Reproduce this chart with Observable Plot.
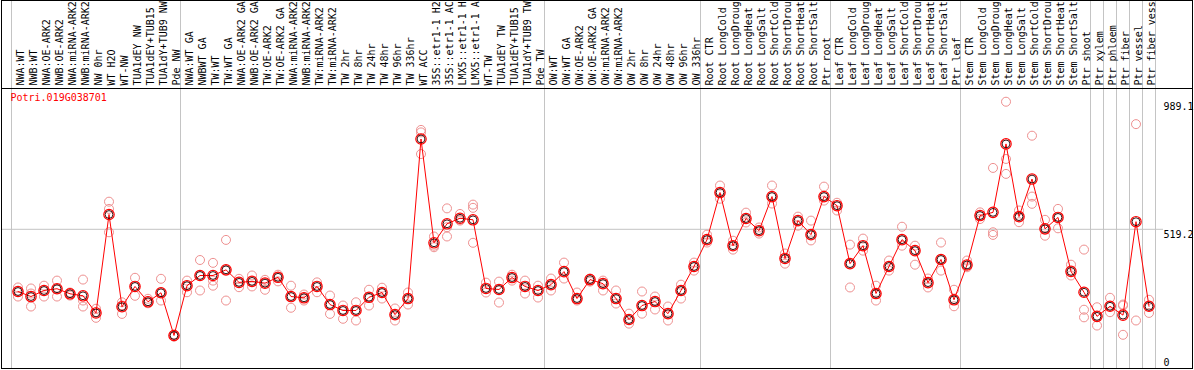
<!DOCTYPE html>
<html><head><meta charset="utf-8">
<script src="https://cdn.jsdelivr.net/npm/d3@7"></script>
<script src="https://cdn.jsdelivr.net/npm/@observablehq/plot@0.6"></script>
<style>
html,body{margin:0;padding:0;background:#fff;}
#chart svg{display:block;}
</style></head><body><div id="chart"></div>
<script>
const gene = "Potri.019G038701";
const samples = [
"NWA:WT","NWB:WT","NWA:OE-ARK2","NWB:OE-ARK2","NWA:miRNA-ARK2","NWB:miRNA-ARK2","NW 0hr","WT H2O","WT-NW","TUA1dEY NW","TUA1dEY+TUB15 NW","TUA1dY+TUB9 NW","Pde NW",
"NWA:WT GA","NWBWT GA","TW:WT","TW:WT GA","NWA:OE-ARK2 GA","NWB:OE-ARK2 GA","TW:OE-ARK2","TW:OE-ARK2 GA","NWA:miRNA-ARK2","NWB:miRNA-ARK2","TW:miRNA-ARK2","TW:miRNA-ARK2","TW 2hr","TW 8hr","TW 24hr","TW 48hr","TW 96hr","TW 336hr","WT ACC","35S::etr1-1 H2O","35S::etr1-1 ACC","LMX5::etr1-1 H2O","LMX5::etr1-1 ACC","WT-TW","TUA1dEY TW","TUA1dEY+TUB15 TW","TUA1dY+TUB9 TW","Pde TW",
"OW:WT","OW:WT GA","OW:OE-ARK2","OW:OE-ARK2 GA","OW:miRNA-ARK2","OW:miRNA-ARK2","OW 2hr","OW 8hr","OW 24hr","OW 48hr","OW 96hr","OW 336hr",
"Root CTR","Root LongCold","Root LongDrought","Root LongHeat","Root LongSalt","Root ShortCold","Root ShortDrought","Root ShortHeat","Root ShortSalt","Ptr root",
"Leaf CTR","Leaf LongCold","Leaf LongDrought","Leaf LongHeat","Leaf LongSalt","Leaf ShortCold","Leaf ShortDrought","Leaf ShortHeat","Leaf ShortSalt","Ptr leaf",
"Stem CTR","Stem LongCold","Stem LongDrought","Stem LongHeat","Stem LongSalt","Stem ShortCold","Stem ShortDrought","Stem ShortHeat","Stem ShortSalt","Ptr shoot",
"Ptr xylem","Ptr phloem","Ptr fiber","Ptr vessel","Ptr fiber vessel"
];
const means = [
279,259,283,290,270,262,193,575,218,299,238,274,99,
302,342,342,364,315,319,312,335,259,254,299,227,203,203,256,275,186,251,854,468,540,561,555,291,287,334,299,283,
306,357,251,326,310,251,166,223,239,190,283,377,
480,657,457,560,514,642,408,552,499,642,
608,388,457,271,377,480,438,314,404,246,
383,571,583,836,567,707,521,564,358,276,
179,220,184,548,220
];
const replicates = [
[295,279,259],[291,271,219],[302,283,259],[322,290,259],[275,271,263],[326,243,219],[210,196,173],[623,596,508],[236,223,189],[333,299,262],[250,240,232],[329,276,243],[103,99,94],
[322,302,276],[402,342,283],[391,322,302],[479,364,243],[329,315,296],[342,319,299],[325,312,286],[345,335,319],[302,259,214],[267,254,243],[315,299,276],[263,227,189],[223,203,169],[236,203,162],[286,256,223],[294,275,251],[211,186,162],[275,251,227],[887,878,799],[492,457,451],[598,527,492],[577,555,552],[612,600,468],[314,291,275],[318,287,235],[345,334,322],[322,299,271],[302,283,255],
[330,306,283],[392,357,330],[275,251,243],[330,326,318],[322,310,283],[283,251,231],[190,166,149],[279,223,190],[259,239,207],[219,190,162],[306,283,251],[392,377,361],
[499,480,469],[683,657,634],[476,457,442],[582,560,545],[526,514,503],[683,642,616],[427,408,388],[567,552,533],[552,499,477],[679,642,627],
[619,608,590],[461,388,295],[484,457,438],[302,271,243],[400,377,361],[529,480,457],[457,438,384],[330,314,295],[469,404,361],[286,246,220],
[400,383,374],[583,571,558],[748,508,498],[989,781,726],[590,567,546],[866,642,615],[555,521,495],[596,564,523],[384,358,342],[442,206,175],
[216,179,141],[254,220,196],[227,223,102],[908,162],[246,220,193]
];
const groupBreaks = [0,13,41,53,63,73,83,84,85,86,87,88];
const yTicks = [0, 519.2, 989.1];
const yTickLabels = ["0", "519.2", "989.1"];

const pts = samples.map((s, i) => ({i, label: s, mean: means[i]}));
const reps = replicates.flatMap((r, i) => r.map(v => ({i, v})));
const xTicks = samples.map((s, i) => i + 0.5);

const plot = Plot.plot({
  width: 1194, height: 370,
  marginTop: 88, marginBottom: 2, marginLeft: 11, marginRight: 39,
  style: {fontFamily: "'DejaVu Sans Mono', monospace", fontSize: "10px", background: "white", color: "black"},
  x: {type: "linear", domain: [0, samples.length], axis: null},
  y: {type: "pow", exponent: 1.075, domain: [0, 989.1], range: [356.5, 101.2], axis: null},
  marks: [
    Plot.ruleX(groupBreaks, {x: d => d, stroke: "#c4c4c4", strokeWidth: 1, insetTop: -88}),
    Plot.ruleY([519.2], {stroke: "#c4c4c4", strokeWidth: 1, insetLeft: -10, insetRight: -8}),
    Plot.axisX(xTicks, {anchor: "top", tickSize: 0, tickPadding: 3, tickRotate: -90, textAnchor: "start", dx: 3,
      tickFormat: d => samples[Math.floor(d)], fill: "black"}),
    Plot.axisY(yTicks, {anchor: "right", tickSize: 0, tickPadding: 8, dy: 5.5, textAnchor: "start",
      tickFormat: d => yTickLabels[yTicks.indexOf(d)], fill: "black"}),
    Plot.dot(reps, {x: d => d.i + 0.5, y: "v", r: 4.5, stroke: "#ee9090", strokeWidth: 1, fill: "none"}),
    Plot.line(pts, {x: d => d.i + 0.5, y: "mean", stroke: "red", strokeWidth: 1}),
    Plot.dot(pts, {x: d => d.i + 0.5, y: "mean", r: 5.2, stroke: "red", strokeWidth: 1.2, fill: "none"}),
    Plot.dot(pts, {x: d => d.i + 0.5, y: "mean", r: 3.9, stroke: "#200000", strokeWidth: 0.9, fill: "none"}),
    Plot.text([gene], {frameAnchor: "top-left", text: d => d, fill: "red", textAnchor: "start", lineAnchor: "middle", dx: -1, dy: 9}),
    Plot.frame({stroke: "black", insetLeft: -10, insetRight: -37, insetTop: -88}),
    Plot.frame({anchor: "top", stroke: "black", insetLeft: -10, insetRight: -37})
  ]
});
document.getElementById("chart").appendChild(plot);
</script>
</body></html>
